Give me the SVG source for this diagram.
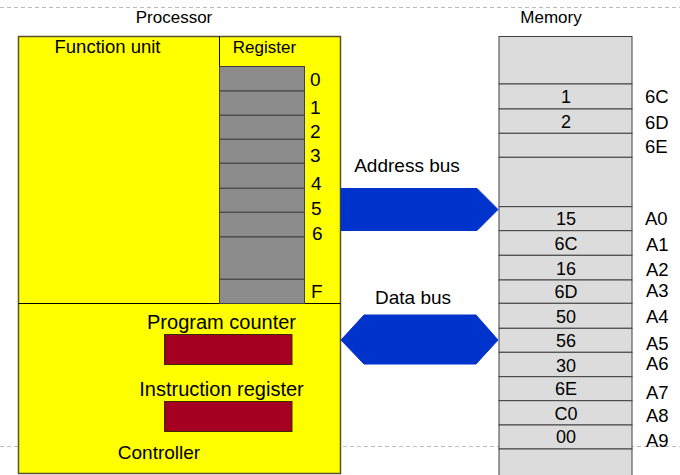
<svg xmlns="http://www.w3.org/2000/svg" width="680" height="475" viewBox="0 0 680 475">
<style>
text{font-family:"Liberation Sans",Arial,sans-serif;font-size:17px;fill:#000}
.m{text-anchor:middle}
.big{font-size:20px}
.mid{font-size:19px}
.adr{font-size:18.5px}
.val{font-size:18px}
.dash{stroke:#bbbbbb;stroke-width:1;stroke-dasharray:4 3;fill:none}
.reg{fill:#8c8c8c;stroke:#404040;stroke-width:1}
.cell{fill:#dcdcdc;stroke:#404040;stroke-width:1}
.red{fill:#a50021;stroke:#3a2a00;stroke-width:1}
.bus{fill:#0033cc;stroke:#0033cc;stroke-width:1}
</style>
<rect width="680" height="475" fill="#ffffff"/>
<line class="dash" x1="0" y1="7.5" x2="680" y2="7.5"/>
<line class="dash" x1="0" y1="446.5" x2="680" y2="446.5"/>

<g id="processor">
<text class="m" x="174" y="23">Processor</text>
<rect x="18.5" y="36.5" width="322" height="437" fill="#ffff00" stroke="#5c5030" stroke-width="1.5"/>
<line x1="219.5" y1="36.5" x2="219.5" y2="66" stroke="#000" stroke-width="1"/>
<line x1="18.5" y1="303.5" x2="340.5" y2="303.5" stroke="#000" stroke-width="1.2"/>
<text class="m adr" x="107.5" y="53">Function unit</text>
<text class="m" x="264.5" y="53">Register</text>
</g>

<g id="registers">
<rect class="reg" x="219.5" y="66.5" width="85" height="24.5"/>
<rect class="reg" x="219.5" y="91" width="85" height="24.3"/>
<rect class="reg" x="219.5" y="115.3" width="85" height="24"/>
<rect class="reg" x="219.5" y="139.3" width="85" height="24"/>
<rect class="reg" x="219.5" y="163.3" width="85" height="25"/>
<rect class="reg" x="219.5" y="188.3" width="85" height="24"/>
<rect class="reg" x="219.5" y="212.3" width="85" height="24.7"/>
<rect class="reg" x="219.5" y="237" width="85" height="42.3"/>
<rect class="reg" x="219.5" y="279.3" width="85" height="24.2"/>
<text class="mid" x="310" y="86">0</text>
<text class="mid" x="310" y="114">1</text>
<text class="mid" x="310" y="138">2</text>
<text class="mid" x="310" y="162">3</text>
<text class="mid" x="311" y="190">4</text>
<text class="mid" x="311" y="215">5</text>
<text class="mid" x="312" y="240">6</text>
<text class="mid" x="311" y="298">F</text>
</g>

<g id="controller">
<text class="m big" x="221.5" y="329">Program counter</text>
<rect class="red" x="164.5" y="334.5" width="127.5" height="30"/>
<text class="m big" x="221.5" y="396">Instruction register</text>
<rect class="red" x="164.5" y="401.5" width="127.5" height="30"/>
<text class="m mid" x="159" y="459">Controller</text>
</g>

<g id="memory">
<text class="m" x="551" y="23">Memory</text>
<rect class="cell" x="499" y="36.5" width="133" height="47.5"/>
<rect class="cell" x="499" y="84" width="133" height="25"/>
<rect class="cell" x="499" y="109" width="133" height="24.3"/>
<rect class="cell" x="499" y="133.3" width="133" height="24"/>
<rect class="cell" x="499" y="157.3" width="133" height="49.4"/>
<rect class="cell" x="499" y="206.7" width="133" height="24"/>
<rect class="cell" x="499" y="230.7" width="133" height="24.6"/>
<rect class="cell" x="499" y="255.3" width="133" height="24.7"/>
<rect class="cell" x="499" y="280" width="133" height="23.3"/>
<rect class="cell" x="499" y="303.3" width="133" height="25"/>
<rect class="cell" x="499" y="328.3" width="133" height="24"/>
<rect class="cell" x="499" y="352.3" width="133" height="24.4"/>
<rect class="cell" x="499" y="376.7" width="133" height="24"/>
<rect class="cell" x="499" y="400.7" width="133" height="24.3"/>
<rect class="cell" x="499" y="425" width="133" height="24"/>
<rect class="cell" x="499" y="449" width="133" height="30"/>
<text class="m val" x="566" y="103">1</text>
<text class="m val" x="566" y="128">2</text>
<text class="m val" x="566" y="225">15</text>
<text class="m val" x="566" y="250">6C</text>
<text class="m val" x="566" y="275">16</text>
<text class="m val" x="566" y="298">6D</text>
<text class="m val" x="566" y="323">50</text>
<text class="m val" x="566" y="347">56</text>
<text class="m val" x="566" y="372">30</text>
<text class="m val" x="566" y="395">6E</text>
<text class="m val" x="566" y="420">C0</text>
<text class="m val" x="566" y="443">00</text>
<text class="adr" x="645" y="103">6C</text>
<text class="adr" x="645" y="129">6D</text>
<text class="adr" x="645" y="153">6E</text>
<text class="adr" x="645" y="225">A0</text>
<text class="adr" x="646" y="251">A1</text>
<text class="adr" x="646" y="276">A2</text>
<text class="adr" x="646" y="297">A3</text>
<text class="adr" x="646" y="323">A4</text>
<text class="adr" x="646" y="350">A5</text>
<text class="adr" x="646" y="370">A6</text>
<text class="adr" x="646" y="399">A7</text>
<text class="adr" x="646" y="422">A8</text>
<text class="adr" x="646" y="447">A9</text>
</g>

<g id="connectors">
<polygon class="bus" points="341,188.5 477,188.5 498,209.5 477,230.5 341,230.5"/>
<text class="m mid" x="407" y="172">Address bus</text>
<polygon class="bus" points="341,340 364,315 476,315 498,340 476,364 364,364"/>
<text class="m mid" x="413" y="304">Data bus</text>
</g>
</svg>
